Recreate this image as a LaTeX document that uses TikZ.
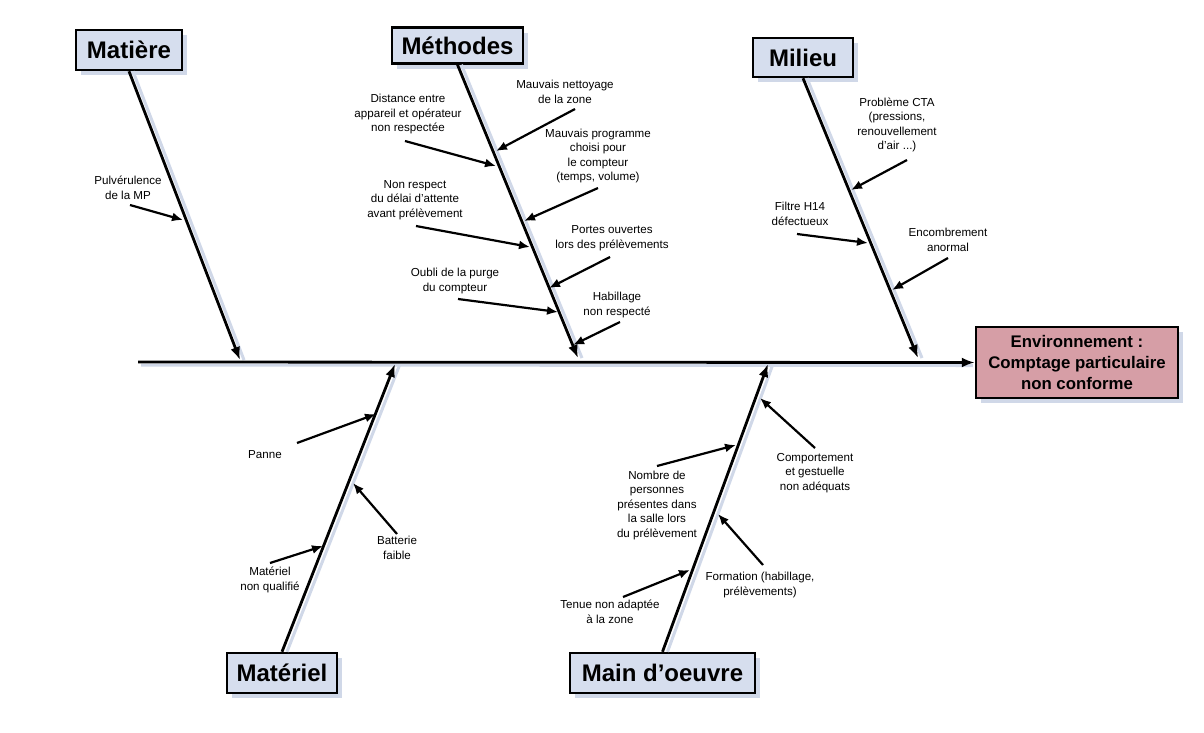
\documentclass[tikz,border=0pt]{standalone}
\usepackage{fontspec}
\setmainfont{Liberation Sans}
\usetikzlibrary{arrows.meta,shadows}
\definecolor{boxfill}{RGB}{214,222,238}
\definecolor{effectfill}{RGB}{214,158,166}
\definecolor{shadowc}{RGB}{208,216,232}
\begin{document}
\begin{tikzpicture}[x=1pt,y=-1pt,
  cat/.style={draw=black, line width=2.5pt, fill=boxfill, font=\fontsize{24}{28}\selectfont\bfseries, inner sep=0pt, drop shadow={shadow xshift=5pt, shadow yshift=-5pt, fill=shadowc, opacity=1}},
  effect/.style={draw=black, line width=2.5pt, fill=effectfill, font=\fontsize{16.8}{21}\selectfont\bfseries, align=center, inner sep=0pt, minimum width=202pt, minimum height=71pt, drop shadow={shadow xshift=5pt, shadow yshift=-5pt, fill=shadowc, opacity=1}},
  lab/.style={font=\fontsize{11.6}{14.5}\selectfont, align=center, inner sep=0pt},
  bone/.style={line width=2.8pt, -{Latex[length=13pt,width=10pt]}},
  cause/.style={line width=2.2pt, -{Latex[length=11pt,width=9pt]}},
  bshadow/.style={draw=shadowc, line width=3pt}]
\useasboundingbox (0,0) rectangle (1204,732);

% effect and categories
\node[effect] (eff) at (1077,362.5) {Environnement :\\Comptage particulaire\\non conforme};
\node[cat, minimum width=106pt, minimum height=40pt] (mat) at (129,50) {Matière};
\node[cat, minimum width=131pt, minimum height=36pt] (meth) at (457.5,45.5) {Méthodes};
\node[cat, minimum width=100pt, minimum height=39pt] (mil) at (803,57.5) {Milieu};
\node[cat, minimum width=110pt, minimum height=40pt] (matl) at (282,673) {Matériel};
\node[cat, minimum width=185pt, minimum height=40pt] (mo) at (662.5,673) {Main d’oeuvre};

% spine
\coordinate (tail) at (138,362);
\coordinate (jmat) at (240,360);
\coordinate (jmeth) at (578,358);
\coordinate (jmil) at (918,358);
\coordinate (jmatl) at (395,364);
\coordinate (jmo) at (768,364);

\draw[bshadow] ([shift={(3pt,-3pt)}]tail) -- ([shift={(-2pt,-3pt)}]eff.west);
\draw[bshadow] ([shift={(4pt,0pt)}]mat.south) -- ([shift={(4pt,0pt)}]jmat);
\draw[bshadow] ([shift={(4pt,0pt)}]meth.south) -- ([shift={(4pt,0pt)}]jmeth);
\draw[bshadow] ([shift={(4pt,0pt)}]mil.south) -- ([shift={(4pt,0pt)}]jmil);
\draw[bshadow] ([shift={(5pt,0pt)}]matl.north) -- ([shift={(5pt,0pt)}]jmatl);
\draw[bshadow] ([shift={(5pt,0pt)}]mo.north) -- ([shift={(5pt,0pt)}]jmo);

\draw[bone] (tail) -- (eff.west);
\draw[bone] (mat.south) -- (jmat);
\draw[bone] (meth.south) -- (jmeth);
\draw[bone] (mil.south) -- (jmil);
\draw[bone] (matl.north) -- (jmatl);
\draw[bone] (mo.north) -- (jmo);

% Matiere
\node[lab] (t1) at (128,188) {Pulvérulence\\de la MP};
\coordinate (t1s) at (130,205); \coordinate (t1e) at (183,220);
\draw[cause] (t1s) -- (t1e);

% Methodes
\node[lab] (m1) at (565,92) {Mauvais nettoyage\\de la zone};
\coordinate (m1s) at (575,109); \coordinate (m1e) at (496,151);
\node[lab] (m2) at (408,114) {Distance entre\\appareil et opérateur\\non respectée};
\coordinate (m2s) at (405,141); \coordinate (m2e) at (496,166);
\node[lab] (m3) at (598,156) {Mauvais programme\\choisi pour\\le compteur\\(temps, volume)};
\coordinate (m3s) at (598,188); \coordinate (m3e) at (524,221);
\node[lab] (m4) at (415,200) {Non respect\\du délai d’attente\\avant prélèvement};
\coordinate (m4s) at (416,226); \coordinate (m4e) at (530,247);
\node[lab] (m5) at (612,238) {Portes ouvertes\\lors des prélèvements};
\coordinate (m5s) at (610,257); \coordinate (m5e) at (549,288);
\node[lab] (m6) at (455,281) {Oubli de la purge\\du compteur};
\coordinate (m6s) at (458,299); \coordinate (m6e) at (558,312);
\node[lab] (m7) at (617,305) {Habillage\\non respecté};
\coordinate (m7s) at (620,322); \coordinate (m7e) at (573,345);
\foreach \i in {1,...,7} {\draw[cause] (m\i s) -- (m\i e);}

% Milieu
\node[lab] (l1) at (897,125) {Problème CTA\\(pressions,\\renouvellement\\d’air ...)};
\coordinate (l1s) at (907,160); \coordinate (l1e) at (851,190);
\node[lab] (l2) at (800,214) {Filtre H14\\défectueux};
\coordinate (l2s) at (797,234); \coordinate (l2e) at (868,243);
\node[lab] (l3) at (948,240) {Encombrement\\anormal};
\coordinate (l3s) at (948,258); \coordinate (l3e) at (892,290);
\foreach \i in {1,2,3} {\draw[cause] (l\i s) -- (l\i e);}

% Materiel
\node[lab] (p1) at (265,455) {Panne};
\coordinate (p1s) at (297,443); \coordinate (p1e) at (376,414);
\node[lab] (p2) at (397,548) {Batterie\\faible};
\coordinate (p2s) at (397,534); \coordinate (p2e) at (353,483);
\node[lab] (p3) at (270,580) {Matériel\\non qualifié};
\coordinate (p3s) at (270,563); \coordinate (p3e) at (323,546);
\foreach \i in {1,2,3} {\draw[cause] (p\i s) -- (p\i e);}

% Main d'oeuvre
\node[lab] (o1) at (815,473) {Comportement\\et gestuelle\\non adéquats};
\coordinate (o1s) at (815,448); \coordinate (o1e) at (760,398);
\node[lab] (o2) at (657,505) {Nombre de\\personnes\\présentes dans\\la salle lors\\du prélèvement};
\coordinate (o2s) at (657,466); \coordinate (o2e) at (736,445);
\node[lab] (o3) at (760,585) {Formation (habillage,\\prélèvements)};
\coordinate (o3s) at (763,565); \coordinate (o3e) at (718,514);
\node[lab] (o4) at (610,612) {Tenue non adaptée\\à la zone};
\coordinate (o4s) at (623,597); \coordinate (o4e) at (690,570);
\foreach \i in {1,...,4} {\draw[cause] (o\i s) -- (o\i e);}
\end{tikzpicture}
\end{document}
